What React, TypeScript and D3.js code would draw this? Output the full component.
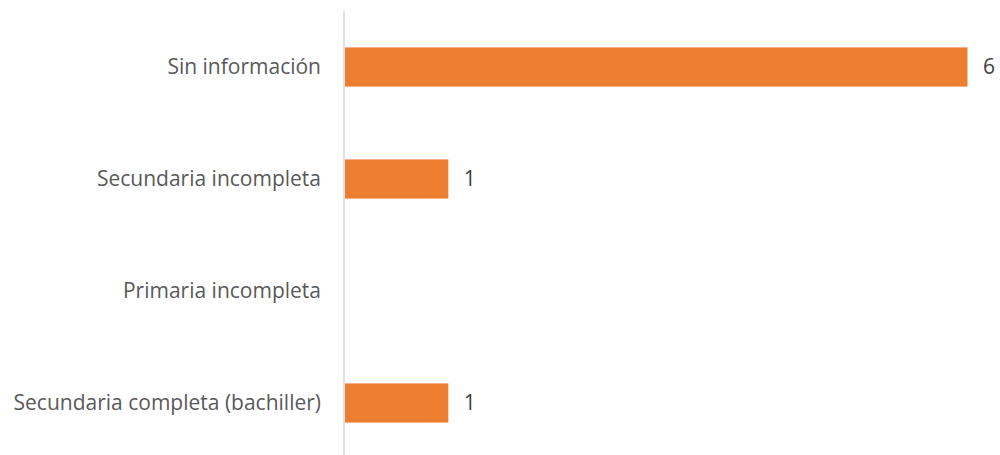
import React from "react";
import * as d3 from "d3";

const categories = [
  "Sin información",
  "Secundaria incompleta",
  "Primaria incompleta",
  "Secundaria completa (bachiller)",
];
const values = [6, 1, 0, 1];

const W = 1000;
const H = 455;

export default function App() {
  const x = d3.scaleLinear().domain([0, 6]).range([344.5, 967.5]);
  const y = d3.scaleBand<string>().domain(categories).range([11, 459]).paddingInner(0.65).paddingOuter(0.325);
  const font = "'Open Sans', sans-serif";
  return (
    <svg width={W} height={H} style={{ position: "absolute", left: 0, top: 0, background: "#fff" }}>
      <line x1={344} x2={344} y1={11} y2={459} stroke="#d9d9d9" strokeWidth={1.5} />
      {categories.map((c, i) => {
        const yy = y(c)!;
        const cy = yy + y.bandwidth() / 2;
        return (
          <g key={c}>
            {values[i] > 0 && (
              <rect x={x(0) + 0.5} y={yy} width={x(values[i]) - x(0) - 0.5} height={y.bandwidth()} fill="#ED7D31" />
            )}
            <text x={321} y={cy} dy="0.35em" textAnchor="end" fontFamily={font} fontSize={21} fill="#595959">
              {c}
            </text>
            {values[i] > 0 && (
              <text x={x(values[i]) + 15.5} y={cy} dy="0.35em" fontFamily={font} fontSize={21} fill="#404040">
                {values[i]}
              </text>
            )}
          </g>
        );
      })}
    </svg>
  );
}
